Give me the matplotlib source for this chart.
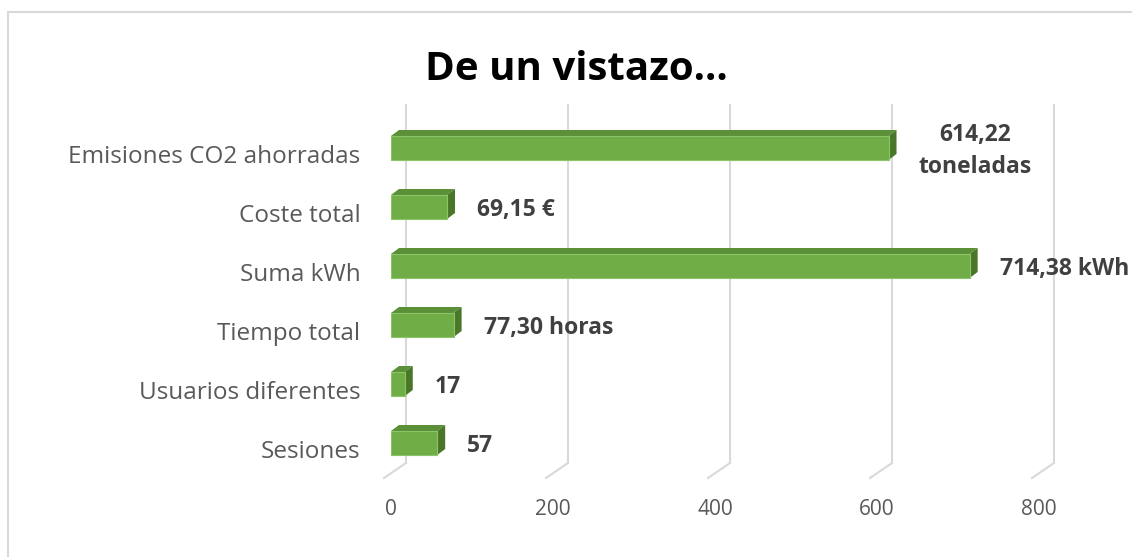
import matplotlib.pyplot as plt
import matplotlib.transforms as mtransforms
from matplotlib.patches import Polygon, Rectangle

# data
categories = ["Sesiones", "Usuarios diferentes", "Tiempo total", "Suma kWh",
              "Coste total", "Emisiones CO2 ahorradas"]
values = [57, 17, 77.30, 714.38, 69.15, 614.22]
value_labels = ["57", "17", "77,30 horas", "714,38 kWh", "69,15 €",
                "614,22\ntoneladas"]
xticks = [0, 200, 400, 600, 800]

W, H = 1132, 557
fig = plt.figure(figsize=(W / 100, H / 100), dpi=100)
fig.patch.set_facecolor("white")

# outer chart frame (cropped on right and bottom)
fig.patches.append(Rectangle((8 / W, -0.1), 1.2, 1.1 - 12 / H, transform=fig.transFigure,
                             fill=False, edgecolor="#d9d9d9", linewidth=1.5))

# axes: x=0 at px 391, x=800 at px 1039; rows 59 px apart
px_per_unit = 0.81
left_px, right_px = 391, 391 + 800 * px_per_unit
top_px, bot_px = 148 - 29.5, 443 + 29.5
ax = fig.add_axes([left_px / W, (H - bot_px) / H, (right_px - left_px) / W, (bot_px - top_px) / H])
ax.set_xlim(0, 800)
ax.set_ylim(-0.5, 5.5)
for s in ax.spines.values():
    s.set_visible(False)

row_px = 59.0
def dx(px):
    return px / px_per_unit
def dy(px):
    return px / row_px

# back wall gridlines + floor diagonals
grid_col = "#d9d9d9"
for t in xticks:
    xb = t + dx(15)
    ax.plot([xb, xb], [dy(443 - 463), dy(443 - 105)], color=grid_col, lw=1.5,
            clip_on=False, zorder=1)
    ax.plot([xb, xb - dx(22)], [dy(443 - 463), dy(443 - 478)], color=grid_col, lw=1.5,
            clip_on=False, zorder=1)

# 3D bars
bar_h = 24 / row_px
ox, oy = dx(8), dy(6)
front, top, side = "#70AD47", "#5B8F38", "#4A7629"
ypos = list(range(len(categories)))
ax.barh(ypos, values, height=bar_h, color=front, edgecolor="#8cc46a",
        linewidth=0.8, zorder=3)
for y, v in zip(ypos, values):
    y0, y1 = y - bar_h / 2, y + bar_h / 2
    ax.add_patch(Polygon([(0, y1), (v, y1), (v + ox, y1 + oy), (ox, y1 + oy)],
                         closed=True, facecolor=top, edgecolor="none", zorder=2))
    ax.add_patch(Polygon([(v, y0), (v + ox, y0 + oy), (v + ox, y1 + oy), (v, y1)],
                         closed=True, facecolor=side, edgecolor="none", zorder=2))

# value labels
for y, v, lab in zip(ypos, values, value_labels):
    ax.text(v + dx(30), y - dy(3), lab, ha="left", va="center", multialignment="center",
            fontsize=16.5, fontweight="bold", color="#404040", family="Open Sans",
            linespacing=1.45, clip_on=False, zorder=4)

# axes ticks
ax.set_yticks(ypos)
ax.set_yticklabels(categories, fontsize=17.5, color="#595959", family="Open Sans")
ax.set_xticks(xticks)
ax.set_xticklabels([str(t) for t in xticks], fontsize=15, color="#595959",
                   family="Open Sans")
ax.tick_params(axis="y", length=0, pad=22)
ax.tick_params(axis="x", length=0, pad=19)

# category labels sit a little lower than the bar centres
shift = mtransforms.ScaledTranslation(0, -6 / 100, fig.dpi_scale_trans)
for lbl in ax.get_yticklabels():
    lbl.set_transform(lbl.get_transform() + shift)

fig.text(576 / W, 1 - 69 / H, "De un vistazo...", ha="center", va="center",
         fontsize=29, fontweight="bold", color="black", family="Open Sans")

fig.savefig("out.png", dpi=100)
